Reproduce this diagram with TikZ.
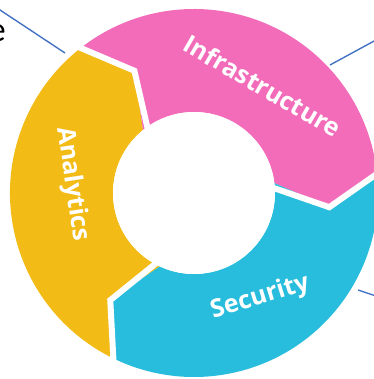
\documentclass[tikz,border=0pt]{standalone}
\usepackage{fontspec}
\setsansfont{Open Sans}
\newfontfamily\calloutfont{Carlito}
\usetikzlibrary{positioning}
\definecolor{ringpink}{RGB}{243,108,186}
\definecolor{ringyellow}{RGB}{242,187,22}
\definecolor{ringcyan}{RGB}{40,189,221}
\definecolor{leaderblue}{RGB}{68,114,196}
\newcommand{\Rout}{184pt}
\newcommand{\Rmid}{136pt}
\newcommand{\Rin}{81pt}
\newcommand{\TipOff}{13}
\newcommand{\LblInfra}{Infrastructure}
\newcommand{\LblSec}{Security}
\newcommand{\LblAna}{Analytics}
% one arrow-shaped piece of the ring: colour, start angle, end angle
\newcommand{\RingPart}[3]{%
  \fill[#1] (#2:\Rout) arc[start angle=#2, end angle=#3, radius=\Rout]
    -- ({#3-\TipOff}:\Rmid) -- (#3:\Rin)
    arc[start angle=#3, end angle=#2, radius=\Rin]
    -- ({#2-\TipOff}:\Rmid) -- cycle;}
\begin{document}
\begin{tikzpicture}[x=1pt,y=1pt,
  gap/.style={white, line width=6pt, line join=miter},
  ringtext/.style={white, font=\sffamily\bfseries\fontsize{25}{30}\selectfont, inner sep=0pt, anchor=base},
  leader/.style={leaderblue, line width=1.4pt}]
  \useasboundingbox (-194,-186) rectangle (179,193);

  % ring
  \RingPart{ringyellow}{245}{129}
  \RingPart{ringpink}{129}{7}
  \RingPart{ringcyan}{7}{-115}
  \foreach \a in {129,7,-115}
    \draw[gap] (\a:190pt) -- ({\a-\TipOff}:\Rmid) -- (\a:70pt);
  \fill[white] (0,0) circle[radius=\Rin];

  % labels
  \node[ringtext, rotate=-30]   (infra) at (64,99)    {\LblInfra};
  \node[ringtext, rotate=17]    (sec)   at (68,-111)  {\LblSec};
  \node[ringtext, rotate=-81.5] (ana)   at (-128,8)   {\LblAna};

  % leaders to the cut-off callouts
  \node[font=\calloutfont\fontsize{35}{40}\selectfont, inner sep=0pt, anchor=base east] (tag) at (-188,151) {e};
  \coordinate (ana-in)    at (-129,140);
  \coordinate (ana-out)   at (-197,185);
  \coordinate (infra-in)  at (136,128);
  \coordinate (infra-out) at (182,153);
  \coordinate (sec-in)    at (164,-97);
  \coordinate (sec-out)   at (182,-103);
  \draw[leader] (ana-out) -- (ana-in);
  \draw[leader] (infra-in) -- (infra-out);
  \draw[leader] (sec-in) -- (sec-out);
\end{tikzpicture}
\end{document}
